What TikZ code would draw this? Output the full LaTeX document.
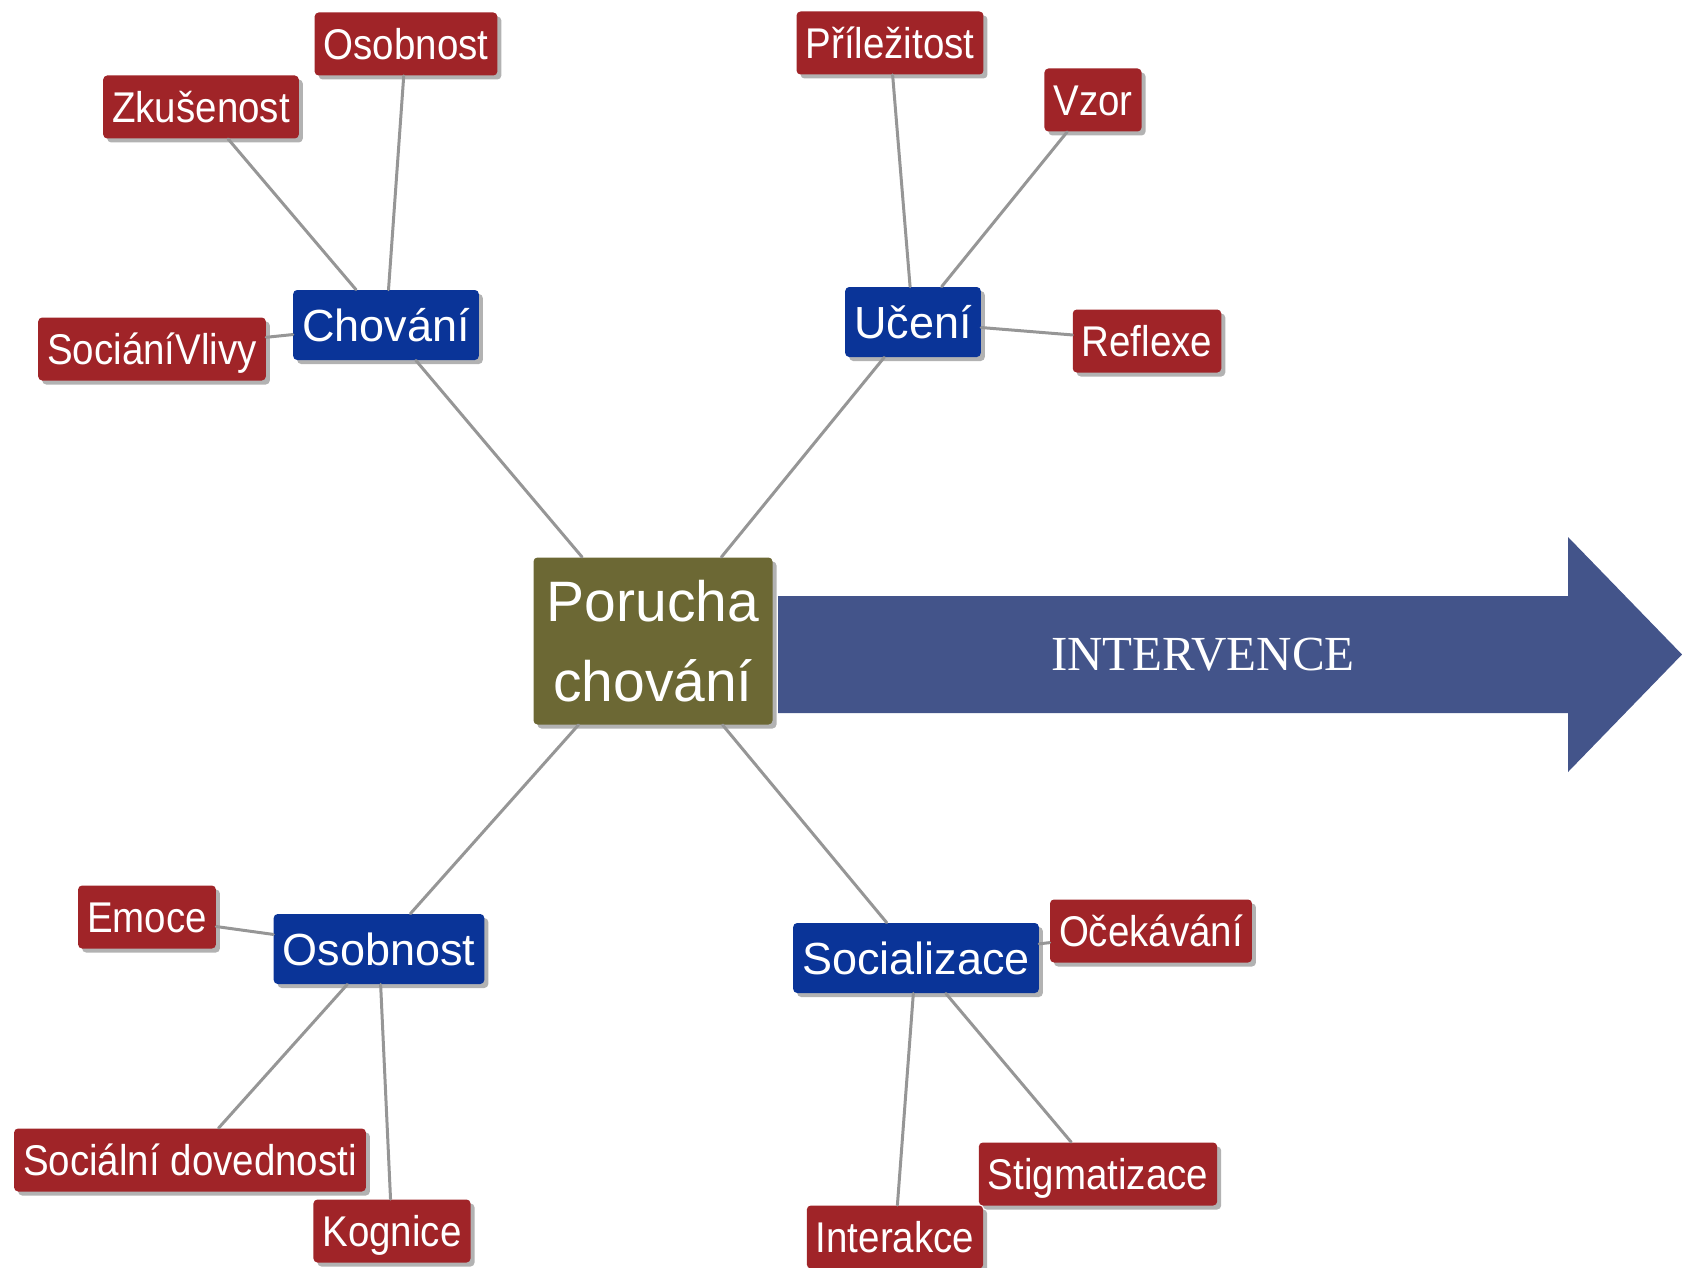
\documentclass[tikz,border=0pt]{standalone}
\usepackage{fontspec}
\setsansfont{Liberation Sans}
\newfontfamily\leaffont{Liberation Sans}[FakeStretch=0.895]
\newfontfamily\arrowfont{Liberation Serif}
\usetikzlibrary{positioning}
\usetikzlibrary{shadows}

\definecolor{leafred}{RGB}{160,36,40}
\definecolor{topicblue}{RGB}{10,52,152}
\definecolor{rootolive}{RGB}{108,104,52}
\definecolor{arrowblue}{RGB}{67,84,138}
\definecolor{linegray}{RGB}{150,150,150}

\tikzset{
  box/.style={rounded corners=2pt, text=white, inner ysep=0pt,
    drop shadow={shadow xshift=2pt, shadow yshift=-2pt, opacity=0.3, fill=black}},
  leaf/.style={box, fill=leafred, inner xsep=4.5pt, minimum height=31.5pt,
    text height=15.4pt, text depth=0pt, font=\leaffont\fontsize{21.5}{25}\selectfont},
  topic/.style={box, fill=topicblue, inner xsep=4.5pt, minimum height=35pt,
    text height=16.1pt, text depth=0pt, font=\sffamily\fontsize{22.5}{27}\selectfont},
  root/.style={box, fill=rootolive, align=center, minimum width=119.5pt, minimum height=83.5pt,
    font=\sffamily\fontsize{28.5}{40}\selectfont},
  link/.style={line width=1.5pt, draw=linegray}
}

\begin{document}
\begin{tikzpicture}[line cap=round,line join=round,x=0.5pt,y=-0.5pt]
\useasboundingbox (0,0) rectangle (1682,1268);
\fill [arrowblue] (778,596) -- (1568,596) -- (1568,537) -- (1682,654.5) -- (1568,772) -- (1568,713) -- (778,713) -- cycle;
\node [text=white, font=\arrowfont\fontsize{24.5}{29}\selectfont] (intervence) at (1203,654.5) {INTERVENCE};
\node [root] (por) at (653,641) {Porucha\\chování};
\node [topic] (cho) at (386,325) {Chování};
\node [topic] (uce) at (913,322) {Učení};
\node [topic] (oso) at (379,949) {Osobnost};
\node [topic] (soc) at (916,958) {Socializace};
\node [leaf] (chOsob) at (406,44) {Osobnost};
\node [leaf] (chZkus) at (201,107) {Zkušenost};
\node [leaf] (chVliv) at (152,349) {SociáníVlivy};
\node [leaf] (ucPril) at (890,43) {Příležitost};
\node [leaf] (ucVzor) at (1093,100) {Vzor};
\node [leaf] (ucRefl) at (1147,341) {Reflexe};
\node [leaf] (osEmoc) at (147,917) {Emoce};
\node [leaf] (osDove) at (190,1160) {Sociální dovednosti};
\node [leaf] (osKogn) at (392,1231) {Kognice};
\node [leaf] (soOcek) at (1151,931) {Očekávání};
\node [leaf] (soStig) at (1098,1174) {Stigmatizace};
\node [leaf] (soInte) at (895,1237) {Interakce};
\draw [link] (por) -- (cho);
\draw [link] (por) -- (uce);
\draw [link] (por) -- (oso);
\draw [link] (por) -- (soc);
\draw [link] (cho) -- (chOsob);
\draw [link] (cho) -- (chZkus);
\draw [link] (cho) -- (chVliv);
\draw [link] (uce) -- (ucPril);
\draw [link] (uce) -- (ucVzor);
\draw [link] (uce) -- (ucRefl);
\draw [link] (oso) -- (osEmoc);
\draw [link] (oso) -- (osDove);
\draw [link] (oso) -- (osKogn);
\draw [link] (soc) -- (soOcek);
\draw [link] (soc) -- (soStig);
\draw [link] (soc) -- (soInte);
\end{tikzpicture}
\end{document}
